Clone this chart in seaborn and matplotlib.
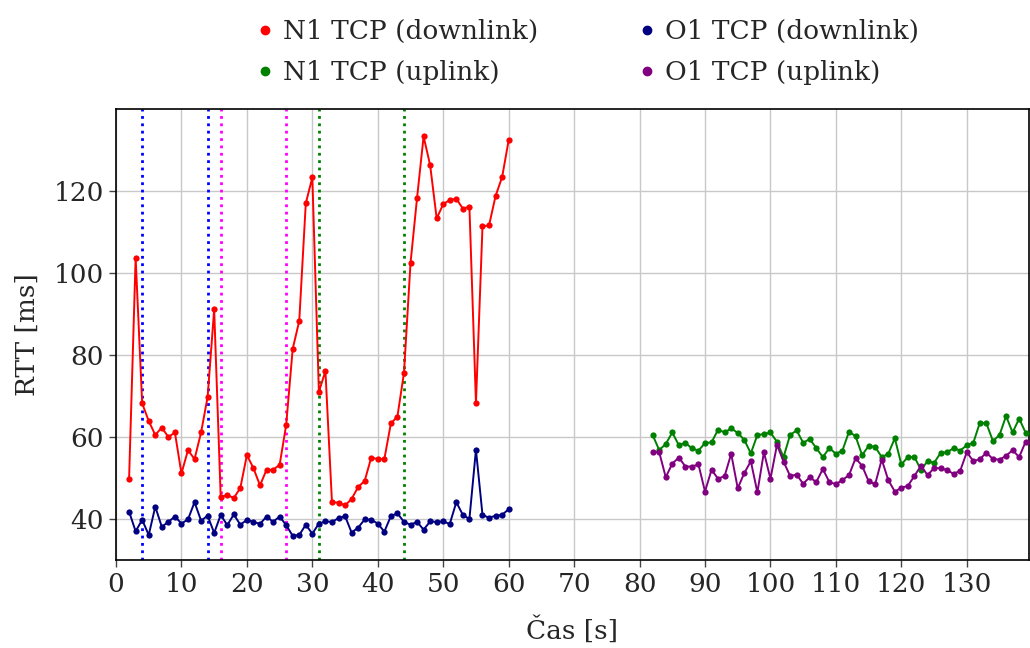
import matplotlib
matplotlib.use("Agg")
import matplotlib.pyplot as plt
from matplotlib.lines import Line2D
import seaborn as sns

# --- measurement data -------------------------------------------------------
t_down = list(range(2, 61))
n1_down = [49.8, 103.7, 68.2, 63.9, 60.5, 62.3, 60.0, 61.1, 51.1, 56.8,
           54.6, 61.1, 69.8, 91.1, 45.3, 45.9, 45.1, 47.6, 55.6, 52.4,
           48.2, 52.0, 52.0, 53.2, 62.9, 81.5, 88.3, 117.0, 123.3, 71.0,
           76.1, 44.1, 44.0, 43.3, 44.9, 47.8, 49.3, 55.0, 54.6, 54.6,
           63.3, 65.0, 75.6, 102.4, 118.3, 133.3, 126.3, 113.3, 116.8, 117.8,
           118.1, 115.7, 116.2, 68.3, 111.4, 111.6, 118.8, 123.4, 132.4]
o1_down = [41.8, 37.0, 39.8, 36.1, 43.0, 38.1, 39.3, 40.6, 38.9, 39.9,
           44.1, 39.6, 40.8, 36.6, 41.0, 38.5, 41.1, 38.6, 39.8, 39.3,
           38.8, 40.6, 39.3, 40.6, 38.5, 35.9, 36.1, 38.6, 36.4, 38.9,
           39.4, 39.3, 40.2, 40.7, 36.7, 37.9, 39.9, 39.8, 38.9, 36.9,
           40.7, 41.4, 39.3, 38.6, 39.3, 37.4, 39.4, 39.3, 39.4, 38.8,
           44.1, 41.0, 40.0, 56.9, 41.0, 40.3, 40.8, 41.0, 42.4]

t_up = list(range(82, 140))
n1_up = [60.5, 56.8, 58.3, 61.1, 58.0, 58.6, 57.2, 56.7, 58.5, 58.7,
         61.8, 61.1, 62.1, 61.0, 59.3, 56.0, 60.5, 60.7, 61.1, 58.8,
         55.1, 60.5, 61.6, 58.6, 59.5, 57.3, 55.1, 57.3, 55.9, 56.7,
         61.3, 60.2, 55.6, 57.8, 57.6, 55.1, 55.9, 59.7, 53.3, 55.1,
         55.1, 52.0, 54.1, 53.7, 56.1, 56.3, 57.3, 56.7, 58.0, 58.6,
         63.5, 63.3, 59.0, 60.5, 65.1, 61.1, 64.5, 61.0]
o1_up = [56.3, 56.3, 50.2, 53.5, 55.0, 52.8, 52.8, 53.3, 46.7, 52.0,
         49.8, 50.5, 55.9, 47.5, 51.2, 54.1, 46.5, 56.3, 49.8, 58.1,
         54.0, 50.5, 50.8, 48.6, 50.2, 49.0, 52.2, 49.0, 48.5, 49.5,
         50.7, 54.8, 53.0, 49.2, 48.5, 54.5, 49.5, 46.7, 47.6, 48.1,
         50.5, 53.0, 50.7, 52.4, 52.4, 51.9, 51.0, 51.8, 56.3, 54.1,
         54.6, 56.2, 54.6, 54.5, 55.4, 56.8, 55.1, 58.9]

series_labels = ["N1 TCP (downlink)", "O1 TCP (downlink)",
                 "N1 TCP (uplink)", "O1 TCP (uplink)"]
event_times = [4, 14, 16, 26, 31, 44]
x_ticks = list(range(0, 140, 10))
y_ticks = [40, 60, 80, 100, 120]

# --- styling ----------------------------------------------------------------
sns.set_theme(style="whitegrid")
plt.rcParams["font.family"] = ["DejaVu Serif"]
plt.rcParams["font.size"] = 19

series_colors = ["red", "navy", "green", "purple"]
event_colors = ["blue", "blue", "magenta", "magenta", "green", "green"]

fig, ax = plt.subplots(figsize=(10.3, 6.48), dpi=100)
fig.subplots_adjust(left=116 / 1030, right=0.999, top=1 - 109 / 648,
                    bottom=1 - 560 / 648)

for tx, c in zip(event_times, event_colors):
    ax.axvline(tx, color=c, linestyle=":", linewidth=2, zorder=1)

for xs, ys, c, lab in [(t_down, n1_down, series_colors[0], series_labels[0]),
                       (t_down, o1_down, series_colors[1], series_labels[1]),
                       (t_up, n1_up, series_colors[2], series_labels[2]),
                       (t_up, o1_up, series_colors[3], series_labels[3])]:
    sns.lineplot(x=xs, y=ys, ax=ax, color=c, marker="o", markersize=4.5,
                 markeredgewidth=0, linewidth=1.4, label=lab, zorder=3)

ax.set_xlim(0, 139.5)
ax.set_ylim(30, 140)
ax.set_xticks(x_ticks)
ax.set_yticks(y_ticks)
ax.tick_params(axis="both", labelsize=19, length=5, width=1,
               color="#444444", direction="out", bottom=True, left=True)
ax.grid(True, color="#c8c8c8", linewidth=1)
for sp in ax.spines.values():
    sp.set_color("black")
    sp.set_linewidth(1.2)

ax.set_xlabel("Čas [s]", fontsize=19, labelpad=14)
ax.set_ylabel("RTT [ms]", fontsize=19, labelpad=10)

# two columns: N1 entries on the left, O1 entries on the right
order = [0, 2, 1, 3]
handles = [Line2D([], [], marker="o", linestyle="", color=series_colors[i],
                  markersize=6) for i in order]
ax.legend(handles, [series_labels[i] for i in order], loc="lower center",
          bbox_to_anchor=(0.514, 1.0), ncol=2, frameon=False, fontsize=19,
          columnspacing=3.6, handlelength=1.0, handletextpad=0.2,
          labelspacing=0.62)

fig.savefig("out.png", dpi=100)
